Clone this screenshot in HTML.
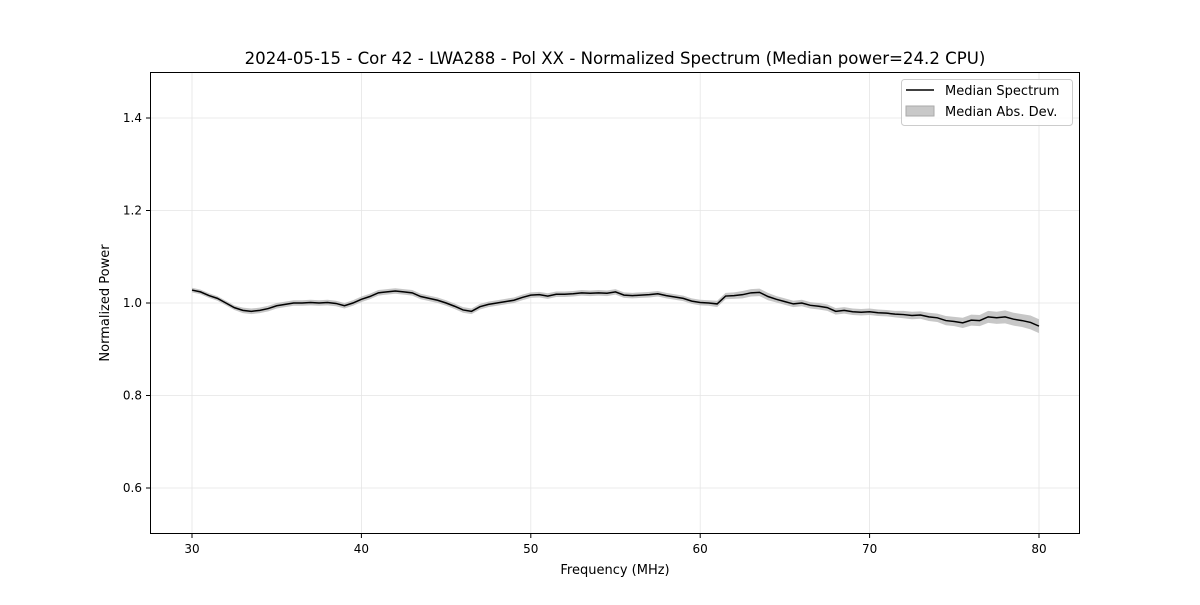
<!DOCTYPE html>
<html><head><meta charset="utf-8"><style>
body{margin:0;background:#fff;font-family:"Liberation Sans","DejaVu Sans",sans-serif;}
svg text{font-family:"DejaVu Sans","Liberation Sans",sans-serif;}
</style></head><body>
<svg id="chart" width="1200" height="600">
<rect width="1200" height="600" fill="#fff"/>
<g id="grid"></g>
<g id="band"></g>
<g id="line"></g>
<rect x="150.5" y="72.5" width="929" height="461" fill="none" stroke="#000" stroke-width="1"/>
<g id="xt"></g><g id="yt"></g>
<text x="615" y="64" text-anchor="middle" font-size="16.6">2024-05-15 - Cor 42 - LWA288 - Pol XX - Normalized Spectrum (Median power=24.2 CPU)</text>
<text x="615" y="574" text-anchor="middle" font-size="13">Frequency (MHz)</text>
<text x="109" y="303" text-anchor="middle" font-size="13" transform="rotate(-90 109 303)">Normalized Power</text>
<g>
<rect x="901.5" y="79.5" width="171" height="46" rx="3" fill="#fff" fill-opacity="0.8" stroke="#ccc"/>
<line x1="906" y1="90" x2="934" y2="90" stroke="#000" stroke-width="1.5"/>
<text x="945" y="95" font-size="13">Median Spectrum</text>
<rect x="906" y="106" width="28" height="10" fill="#c8c8c8" stroke="#aaa"/>
<text x="945" y="116" font-size="13">Median Abs. Dev.</text>
</g>
</svg>
<script>
const freqStart = 30, freqStep = 0.5;
const median = [1.028,1.024,1.016,1.010,1.000,0.990,0.984,0.982,0.984,0.988,0.994,0.997,1.000,1.000,1.001,1.000,1.001,0.999,0.994,1.000,1.008,1.014,1.022,1.024,1.026,1.024,1.022,1.014,1.010,1.006,1.000,0.993,0.985,0.982,0.992,0.997,1.000,1.003,1.006,1.012,1.017,1.018,1.015,1.019,1.019,1.020,1.022,1.021,1.022,1.021,1.024,1.017,1.016,1.017,1.018,1.020,1.016,1.013,1.010,1.004,1.001,1.000,0.998,1.015,1.016,1.018,1.022,1.023,1.014,1.008,1.003,0.998,1.000,0.995,0.993,0.990,0.982,0.984,0.981,0.980,0.981,0.979,0.978,0.976,0.975,0.973,0.974,0.970,0.968,0.962,0.960,0.957,0.963,0.962,0.970,0.968,0.970,0.965,0.962,0.958,0.950];
const mad = [0.005,0.005,0.005,0.005,0.005,0.005,0.006,0.006,0.006,0.006,0.006,0.006,0.006,0.006,0.006,0.006,0.006,0.006,0.006,0.006,0.006,0.006,0.006,0.006,0.006,0.006,0.006,0.006,0.006,0.006,0.006,0.006,0.006,0.006,0.006,0.006,0.006,0.006,0.006,0.006,0.006,0.006,0.006,0.006,0.006,0.006,0.006,0.006,0.006,0.006,0.006,0.006,0.006,0.006,0.006,0.006,0.006,0.006,0.006,0.006,0.006,0.006,0.007,0.007,0.007,0.008,0.008,0.008,0.008,0.007,0.007,0.007,0.007,0.007,0.007,0.007,0.007,0.007,0.007,0.007,0.007,0.007,0.007,0.007,0.008,0.008,0.008,0.009,0.009,0.010,0.010,0.011,0.012,0.012,0.013,0.013,0.014,0.014,0.014,0.015,0.015];
const xTicks = [30,40,50,60,70,80];
const yTicks = [0.6,0.8,1.0,1.2,1.4];
const X = f => 192 + (f-30)*(1039-192)/50;
const Y = v => 118 + (1.4-v)*462.5;
const NS="http://www.w3.org/2000/svg";
const mk=(p,t,a)=>{const e=document.createElementNS(NS,t);for(const k in a)e.setAttribute(k,a[k]);document.getElementById(p).appendChild(e);return e;};
xTicks.forEach(t=>{const x=X(t);
 const g=mk('grid','line',{x1:x,x2:x,y1:72,y2:534,stroke:'#e5e5e5','stroke-width':0.8});
 
 
 mk('xt','line',{x1:x,x2:x,y1:534,y2:538,stroke:'#000'});
 const tx=mk('xt','text',{x:x,y:553,'text-anchor':'middle','font-size':12});tx.textContent=t;
 
 });
yTicks.forEach(t=>{const y=Y(t);
 const g=mk('grid','line',{x1:150,x2:1080,y1:y,y2:y,stroke:'#e5e5e5','stroke-width':0.8});
 
 
 mk('yt','line',{x1:146,x2:150,y1:y,y2:y,stroke:'#000'});
 const tx=mk('yt','text',{x:142,y:y+4,'text-anchor':'end','font-size':12});tx.textContent=t.toFixed(1);
 
 });
const fx=i=>X(freqStart+i*freqStep);
let up=median.map((v,i)=>fx(i)+','+Y(v+mad[i])).join(' ');
let dn=median.map((v,i)=>fx(i)+','+Y(v-mad[i])).reverse().join(' ');
const band=mk('band','polygon',{points:up+' '+dn,fill:'#bdbdbd','fill-opacity':0.85});


const ln=mk('line','polyline',{points:median.map((v,i)=>fx(i)+','+Y(v)).join(' '),fill:'none',stroke:'#000','stroke-width':1.5});


</script>
</body></html>
